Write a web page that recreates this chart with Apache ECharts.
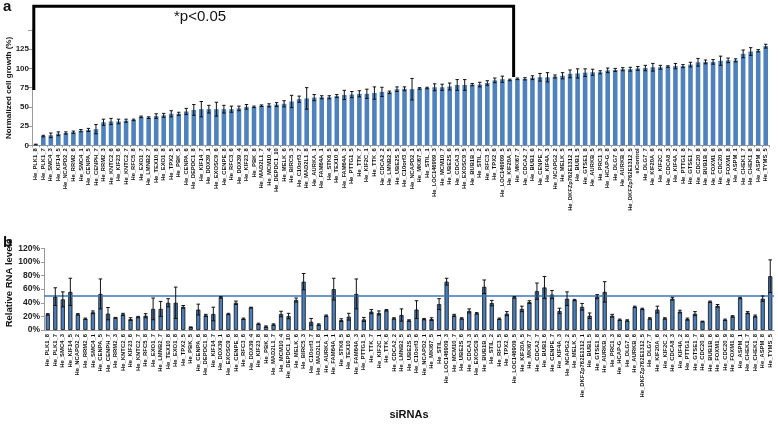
<!DOCTYPE html>
<html><head><meta charset="utf-8">
<script src="https://cdn.jsdelivr.net/npm/echarts@6/dist/echarts.min.js"></script>
<style>html,body{margin:0;padding:0;background:#fff}#c{width:778px;height:426px}</style>
</head><body><div id="c"></div>
<script>
// Panel a: siRNA labels (sorted by growth) incl. siControl
var labelsA = ["He_PLK1_8","He_PLK1_7","He_SMC4_3","He_KIF14_5","He_NCAPD2_2","He_RRM2_6","He_SMC4_1","He_CENPA_5","He_CENPH_7","He_RRM2_3",
"He_KNTC2_6","He_KIF23_6","He_KNTC2_7","He_RFC5_8","He_EXO1_7","He_LMNB2_7","He_TEX10_8","He_EXO1_8","He_TPX2_5","He_PBK_5",
"He_CENPA_6","He_DEPDC1_8","He_KIF14_7","He_DDX39_1","He_EXOSC9_6","He_CENPE_8","He_RFC3_6","He_DDX39_4","He_KIF23_8","He_PBK_8",
"He_MAD2L1_7","He_MCM10_4","He_DEPDC1_10","He_MELK_6","He_BIRC5_3","He_C10orf3_7","He_MAD2L1_8","He_AURKA_1","He_FAM64A_1","He_STK6_5",
"He_TEX10_6","He_FAM64A_3","He_PTTG1_5","He_TTK_7","He_KIF2C_1","He_TTK_6","He_CDCA2_2","He_LMNB2_5","He_UBE2S_5","He_C10orf3_6",
"He_NCAPD2_1","He_MKI67_5","He_STIL_1","He_LOC146909_3","He_MCM10_7","He_UBE2S_6","He_CDCA3_3","He_EXOSC9_5","He_BUB1B_5","He_STIL_2",
"He_RFC3_5","He_TPX2_6","He_LOC146909_5","He_KIF20A_5","He_MKI67_7","He_CDCA2_7","He_BUB1_6","He_CENPE_7","He_KIF4A_3","He_NCAPG2_2",
"He_MELK_5","He_DKFZp762E1312_1","He_BUB1_5","He_GTSE1_8","He_AURKB_5","He_PRC1_3","He_HCAP-G_8","He_DLG7_6","He_AURKB_6","He_DKFZp762E1312_5",
"siControl","He_DLG7_7","He_KIF20A_6","He_KIF2C_2","He_CDCA8_3","He_KIF4A_2","He_PTTG1_8","He_GTSE1_7","He_CDC20_8","He_BUB1B_6",
"He_FOXM1_6","He_CDC20_9","He_FOXM1_8","He_ASPM_1","He_CHEK1_7","He_CHEK1_8","He_ASPM_8","He_TYMS_5"];
var growth = [1,12,13,15,16,17,19,20,21,30, 31,31,32,33,37,36,38,39,41,41, 44,46,47,47,47,47,47,48,50,50,
51.5,52,53,54,57,60,61,62,62.5,62.5, 64,65.5,66,67,67,68,69.5,69,73,73.5, 73,74,74.5,75.5,75.5,76.5,78.5,78.5,79,79, 81,84.5,86,
85,86.5,86.5,88,88.5,88.5,89.5,90.5,93,93.5, 94.5,95,95,97.5,98,99,99,100,100.5,101.5, 101.5,102.5,103,103,105,108,108.5,108.5,110,110.5, 110.5,119,122,123,129];
var growthErr = [0.5,1,3,2.5,1.5,1.5,1.5,2,6,4, 4,3,2,1,1,1,3,2.5,4,2, 4,7,10,5,9,5,4,3,3,1,
1,2,2.5,4,8,4,14,4,2,2, 2,6,4,4,6,8,6,1.5,3,2.5, 14,1,1,4.5,4,4.5,7,7,1.5,3, 3,3,4,
1,1,1.5,2.5,5,6,2,4,5,6, 5,4,2,3,2,2,2.5,2.5,3.5,5, 2.5,1,3.5,2,3,5,2.5,3,6,3, 2,5,5,1.5,2.5];
var growthTicks = [0,25,50,75,100,125];

// Panel b
var labelsB = ["He_PLK1_8","He_PLK1_7","He_SMC4_3","He_KIF14_5","He_NCAPD2_2","He_RRM2_6","He_SMC4_1","He_CENPA_5","He_CENPH_7","He_RRM2_3",
"He_KNTC2_6","He_KIF23_6","He_KNTC2_7","He_RFC5_8","He_EXO1_7","He_LMNB2_7","He_TEX10_8","He_EXO1_8","He_TPX2_5","He_PBK_5",
"He_CENPA_6","He_DEPDC1_8","He_KIF14_7","He_DDX39_1","He_EXOSC9_6","He_CENPE_8","He_RFC3_6","He_DDX39_4","He_KIF23_8","He_PBK_8",
"He_MAD2L1_7","He_MCM10_4","He_DEPDC1_10","He_MELK_6","He_BIRC5_3","He_C10orf3_7","He_MAD2L1_8","He_AURKA_1","He_FAM64A_1","He_STK6_5",
"He_TEX10_6","He_FAM64A_3","He_PTTG1_5","He_TTK_7","He_KIF2C_1","He_TTK_6","He_CDCA2_2","He_LMNB2_5","He_UBE2S_5","He_C10orf3_6",
"He_NCAPD2_1","He_MKI67_5","He_STIL_1","He_LOC146909_3","He_MCM10_7","He_UBE2S_6","He_CDCA3_3","He_EXOSC9_5","He_BUB1B_5","He_STIL_2",
"He_RFC3_5","He_TPX2_6","He_LOC146909_5","He_KIF20A_5","He_MKI67_7","He_CDCA2_7","He_BUB1_6","He_CENPE_7","He_KIF4A_3","He_NCAPG2_2",
"He_MELK_5","He_DKFZp762E1312_1","He_BUB1_5","He_GTSE1_8","He_AURKB_5","He_PRC1_3","He_HCAP-G_8","He_DLG7_6","He_AURKB_6","He_DKFZp762E1312_5",
"He_DLG7_7","He_KIF20A_6","He_KIF2C_2","He_CDCA8_3","He_KIF4A_2","He_PTTG1_8","He_GTSE1_7","He_CDC20_8","He_BUB1B_6","He_FOXM1_6",
"He_CDC20_9","He_FOXM1_8","He_ASPM_1","He_CHEK1_7","He_CHEK1_8","He_ASPM_8","He_TYMS_5"];
var rna = [23,49,45,56,23,16.5,26,53,24,18, 23,16,19,21,31,31,40,40,34,4, 30,21.5,23.5,48,23.5,40,16.5,33,9,5,
8,23.5,20.5,44,71,12,8,21,60,14.5, 19.5,53,15.5,27,25,29,17,22,14,30, 16,16,38,71,21.5,17,28,24.5,63.5,39.5,
16.5,24,48,31,41,57,62.5,52,28,46, 44,34,21,49,56,21,15,14,34,31, 17,30,17,46,27,16,24,12.5,41.5,35.5,
15,20,47,25.5,20.5,46,79];
var rnaErr = [1,13,11,20,1,1,2,22,9,0.5, 1.5,2,1,3,16,11,6,23,2,0.5, 8,1.5,10,1,1,2.5,1,0.5,1,1,
1,4,4,3,12,5,1,1,16,2, 5,22,3,3,3,1,1,9,1,13, 1,2,8,5,1.5,1,3,1,10,4,
1,3,1,4,2,12,16,6,4,10, 1,5,4,3,15,2,1,1,1,1, 1,5,1,2,2,1.5,3,0.5,1,2,
1,1,1,1.5,1.5,4,24];
var rnaTicks = [0,20,40,60,80,100,120];
var rnaThreshold = 50;

var FONT = '"Liberation Sans", Arial, sans-serif';
var chart = echarts.init(document.getElementById('c'), null, {renderer:'canvas'});

function errRender(capW){
  return function(params, api){
    var x = api.value(0), v = api.value(1), e = api.value(2);
    var top = api.coord([x, v + e]);
    var bot = api.coord([x, Math.max(0, v - e)]);
    var st = {stroke:'#111', lineWidth:1};
    return {type:'group', children:[
      {type:'line', shape:{x1:top[0], y1:top[1], x2:bot[0], y2:bot[1]}, style:st},
      {type:'line', shape:{x1:top[0]-capW, y1:top[1], x2:top[0]+capW, y2:top[1]}, style:st},
      {type:'line', shape:{x1:bot[0]-capW, y1:bot[1], x2:bot[0]+capW, y2:bot[1]}, style:st}
    ]};
  };
}

var axisGray = '#9a9a9a';
var option = {
  animation:false,
  textStyle:{fontFamily:FONT},
  grid:[
    {left:32, right:8.5, top:30, bottom:280.7},
    {left:44, right:4, top:248.3, bottom:96}
  ],
  xAxis:[
    {gridIndex:0, type:'category', data:labelsA,
     axisLine:{lineStyle:{color:axisGray}}, axisTick:{show:true, length:2, lineStyle:{color:axisGray}},
     axisLabel:{interval:0, rotate:90, fontSize:5.8, fontWeight:'bold', color:'#111', margin:3, fontFamily:FONT}},
    {gridIndex:1, type:'category', data:labelsB,
     name:'siRNAs', nameLocation:'middle', nameGap:79,
     nameTextStyle:{fontSize:11, fontWeight:'bold', color:'#111', fontFamily:FONT},
     axisLine:{lineStyle:{color:axisGray}}, axisTick:{show:false},
     axisLabel:{interval:0, rotate:90, fontSize:5.9, fontWeight:'bold', color:'#111', margin:4, fontFamily:FONT}}
  ],
  yAxis:[
    {gridIndex:0, type:'value', min:0, max:150, interval:25,
     axisLine:{show:true, lineStyle:{color:axisGray}},
     axisTick:{show:true, length:4, lineStyle:{color:axisGray}},
     splitLine:{show:false},
     axisLabel:{fontSize:8, fontWeight:'bold', color:'#222', margin:3, fontFamily:FONT,
       formatter:function(v){ return growthTicks.indexOf(v) >= 0 ? String(v) : ''; }}},
    {gridIndex:1, type:'value', min:0, max:120, interval:20,
     axisLine:{show:true, lineStyle:{color:axisGray}},
     axisTick:{show:true, length:3, lineStyle:{color:axisGray}},
     splitLine:{show:false},
     axisLabel:{fontSize:8.5, fontWeight:'bold', color:'#222', margin:4, fontFamily:FONT,
       formatter:function(v){ return rnaTicks.indexOf(v) >= 0 ? v + '%' : ''; }}}
  ],
  series:[
    {type:'bar', xAxisIndex:0, yAxisIndex:0, data:growth, barWidth:4.6,
     itemStyle:{color:'#4F81BD'}},
    {type:'custom', xAxisIndex:0, yAxisIndex:0, renderItem:errRender(1.7),
     data:growth.map(function(v,i){return [i, v, growthErr[i]];}), encode:{x:0, y:1}, z:5},
    {type:'bar', xAxisIndex:1, yAxisIndex:1, data:rna, barWidth:4.2,
     itemStyle:{color:'#4A7EBB', borderColor:'#111', borderWidth:0.8},
     markLine:{silent:true, symbol:'none', label:{show:false},
       lineStyle:{color:'#3F74B9', width:1.6, type:'solid'},
       data:[{yAxis:rnaThreshold}]}},
    {type:'custom', xAxisIndex:1, yAxisIndex:1, renderItem:errRender(1.8),
     data:rna.map(function(v,i){return [i, v, rnaErr[i]];}), encode:{x:0, y:1}, z:5}
  ]
};
chart.setOption(option);

// Significance bracket (p<0.05) spanning the first 64 siRNAs, placed via axis scales
var sigLastIndex = 63;
var pTop = chart.convertToPixel({xAxisIndex:0, yAxisIndex:0}, [0, 181]);
var pL = chart.convertToPixel({xAxisIndex:0, yAxisIndex:0}, [0, 72]);
var pR1 = chart.convertToPixel({xAxisIndex:0, yAxisIndex:0}, [sigLastIndex, 89]);
var pR2 = chart.convertToPixel({xAxisIndex:0, yAxisIndex:0}, [sigLastIndex + 1, 89]);
var xl = 33.8, xr = (pR1[0] + pR2[0]) / 2;
chart.setOption({graphic:[
  {type:'polyline', shape:{points:[[xl, pL[1]],[xl, pTop[1]],[xr, pTop[1]],[xr, pR1[1]]]},
   style:{stroke:'#000', lineWidth:3, fill:null}, z:10},
  {type:'text', left:174, top:9, style:{text:'*p<0.05', font:'15px ' + FONT, fill:'#111'}},
  {type:'text', left:3, top:-1, style:{text:'a', font:'bold 15px ' + FONT, fill:'#111'}},
  {type:'text', left:3, top:235, style:{text:'b', font:'bold 15px ' + FONT, fill:'#111'}},
  {type:'text', x:9, y:88, rotation:Math.PI/2,
   style:{text:'Normalized cell growth (%)', font:'bold 8px ' + FONT, fill:'#111', textAlign:'center', textVerticalAlign:'middle'}},
  {type:'text', x:9, y:283, rotation:Math.PI/2,
   style:{text:'Relative RNA levels', font:'bold 9.5px ' + FONT, fill:'#111', textAlign:'center', textVerticalAlign:'middle'}}
]});
</script>
</body></html>
